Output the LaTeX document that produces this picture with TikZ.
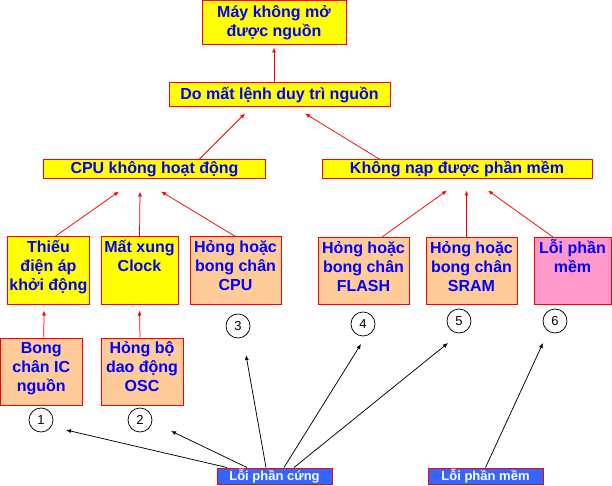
\documentclass[tikz,border=0pt]{standalone}
\usepackage{fontspec}
\setmainfont{Liberation Sans}
\usetikzlibrary{arrows.meta,positioning}
\definecolor{boxyellow}{HTML}{FFFF00}
\definecolor{boxpeach}{HTML}{FFCC99}
\definecolor{boxpink}{HTML}{FF99CC}
\definecolor{tagblue}{HTML}{3366FF}
\definecolor{textblue}{HTML}{0000FF}
\newcommand\topline{\rule{0pt}{16bp}}

\begin{document}
\begin{tikzpicture}[x=1bp, y=-1bp,
  box/.style={draw=red, line width=1bp, inner sep=0pt, text=textblue, align=center,
    font=\fontsize{16bp}{19bp}\selectfont\bfseries},
  tall/.style={box, minimum height=67bp},
  boxtext/.style={inner sep=0pt, text=textblue, align=center,
    font=\fontsize{16bp}{19bp}\selectfont\bfseries},
  tag/.style={draw=red, line width=1bp, fill=tagblue, text=white, inner sep=0pt,
    minimum width=115bp, minimum height=16bp, font=\fontsize{13bp}{15bp}\selectfont\bfseries},
  num/.style={circle, draw, line width=0.75bp, minimum size=24bp, inner sep=0pt,
    font=\fontsize{13bp}{15bp}\selectfont},
  redarrow/.style={draw=red, line width=0.75bp, -{Latex[length=5bp,width=4bp]}},
  blackarrow/.style={draw=black, line width=0.75bp, -{Latex[length=5bp,width=4bp]}}
]

  \useasboundingbox (0,0) rectangle (612,486);

  % upper levels
  \node[box, fill=boxyellow, minimum width=144bp, minimum height=44bp] (may) at (274,23) {Máy không mở\\được nguồn};
  \node[box, fill=boxyellow, minimum width=221bp, minimum height=24bp] (lenh) at (279.5,95) {Do mất lệnh duy trì nguồn};
  \node[box, fill=boxyellow, minimum width=221bp, minimum height=19bp] (cpu) at (154.5,169.5) {CPU không hoạt động};
  \node[box, fill=boxyellow, minimum width=270bp, minimum height=19bp] (nap) at (457,169.5) {Không nạp được phần mềm};

  % causes
  \node[tall, fill=boxyellow, minimum width=81bp] (thieu) at (48.5,270.5) {};
  \node[boxtext, below=0pt of thieu.north] (thieu-t) {\topline Thiếu\\điện áp\\khởi động};
  \node[tall, fill=boxyellow, minimum width=77bp] (xung) at (139.5,270.5) {};
  \node[boxtext, below=0pt of xung.north] (xung-t) {\topline Mất xung\\Clock};
  \node[tall, fill=boxpeach, minimum width=91bp] (hcpu) at (235.5,270.5) {};
  \node[boxtext, below=0pt of hcpu.north] (hcpu-t) {\topline Hỏng hoặc\\bong chân\\CPU};
  \node[tall, fill=boxpeach, minimum width=91bp] (flash) at (363.5,271) {};
  \node[boxtext, below=0pt of flash.north] (flash-t) {\topline Hỏng hoặc\\bong chân\\FLASH};
  \node[tall, fill=boxpeach, minimum width=91bp] (sram) at (471.5,271) {};
  \node[boxtext, below=0pt of sram.north] (sram-t) {\topline Hỏng hoặc\\bong chân\\SRAM};
  \node[tall, fill=boxpink, minimum width=77bp] (lpm) at (572.5,271) {};
  \node[boxtext, below=0pt of lpm.north] (lpm-t) {\topline Lỗi phần\\mềm};

  \node[tall, fill=boxpeach, minimum width=81.5bp] (icng) at (41.25,371.5) {};
  \node[boxtext, below=0pt of icng.north] (icng-t) {\topline Bong\\chân IC\\nguồn};
  \node[tall, fill=boxpeach, minimum width=82bp] (osc) at (142,371.5) {};
  \node[boxtext, below=0pt of osc.north] (osc-t) {\topline Hỏng bộ\\dao động\\OSC};

  % numbers
  \node[num] (c1) at (41,420) {1};
  \node[num] (c2) at (140,420) {2};
  \node[num] (c3) at (238,326) {3};
  \node[num] (c4) at (363,324) {4};
  \node[num] (c5) at (459,321) {5};
  \node[num] (c6) at (555,321) {6};

  \node[tag] (hw) at (274.5,476) {Lỗi phần cứng};
  \node[tag] (sw) at (485.5,476) {Lỗi phần mềm};

  % red arrows
  \draw[redarrow] (lenh.north -| may.south) -- ([yshift=-2bp]may.south);
  \draw[redarrow] ([xshift=44.5bp]cpu.north) -- ([xshift=-34.5bp,yshift=-6bp]lenh.south);
  \draw[redarrow] ([xshift=-77bp]nap.north) -- ([xshift=25.5bp,yshift=-6bp]lenh.south);
  \draw[redarrow] ([xshift=6.5bp]thieu.north) -- ([xshift=-35.5bp,yshift=-12bp]cpu.south);
  \draw[redarrow] (xung.north) -- ([xshift=-14.5bp,yshift=-12bp]cpu.south);
  \draw[redarrow] (hcpu.north) -- ([xshift=6.5bp,yshift=-12bp]cpu.south);
  \draw[redarrow] ([xshift=18.5bp]flash.north) -- ([xshift=-10bp,yshift=-11bp]nap.south);
  \draw[redarrow] ([xshift=-5bp]sram.north) -- ([xshift=9.5bp,yshift=-11bp]nap.south);
  \draw[redarrow] ([xshift=-19.5bp]lpm.north) -- ([xshift=31bp,yshift=-11bp]nap.south);
  \draw[redarrow] ([xshift=2.5bp]icng.north) -- ([xshift=-4.5bp,yshift=-6bp]thieu.south);
  \draw[redarrow] ([xshift=-2bp]osc.north) -- ([yshift=-6bp]xung.south);

  % black arrows
  \draw[blackarrow] ([xshift=-47.5bp]hw.north) -- ([xshift=25bp,yshift=-10bp]c1.center);
  \draw[blackarrow] ([xshift=-27.5bp]hw.north) -- ([xshift=31bp,yshift=-11bp]c2.center);
  \draw[blackarrow] ([xshift=-8.5bp]hw.north) -- ([xshift=8bp,yshift=-29bp]c3.center);
  \draw[blackarrow] ([xshift=9.5bp]hw.north) -- ([xshift=-2bp,yshift=-20bp]c4.center);
  \draw[blackarrow] ([xshift=19.5bp]hw.north) -- ([xshift=-11bp,yshift=-22bp]c5.center);
  \draw[blackarrow] (sw.north) -- ([xshift=-12bp,yshift=-22bp]c6.center);

\end{tikzpicture}
\end{document}
